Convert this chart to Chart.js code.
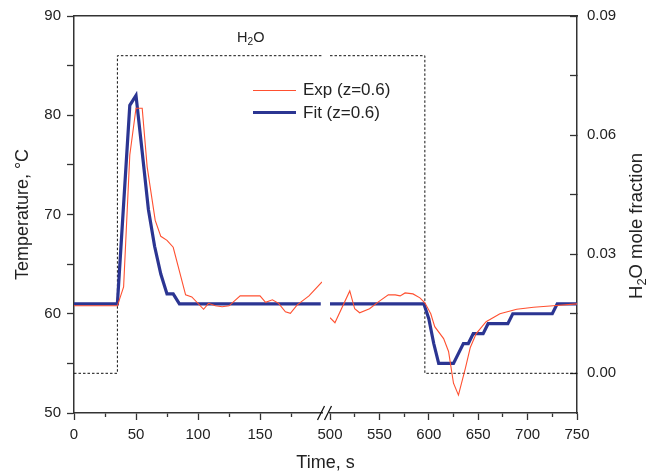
<!DOCTYPE html>
<html>
<head>
<meta charset="utf-8">
<script src="https://cdn.jsdelivr.net/npm/chart.js@4.4.1/dist/chart.umd.min.js"></script>
<style>
body{margin:0;background:#fff;}
canvas{display:block;}
#wrap{position:relative;width:666px;height:474px;font-family:"Liberation Sans",Arial,sans-serif;color:#222;}
#legend{position:absolute;left:253px;top:79px;font-size:17px;}
.legend-row{display:flex;align-items:center;height:22.5px;white-space:nowrap;}
.legend-line{width:43px;margin-right:7px;}
#h2o-label{position:absolute;left:237px;top:29px;font-size:14.5px;}
#y2-title{position:absolute;left:636px;top:226px;font-size:18.5px;white-space:nowrap;transform:translate(-50%,-50%) rotate(-90deg);}
sub{font-size:0.7em;vertical-align:-0.3em;line-height:0;}
</style>
</head>
<body>
<div id="wrap">
  <canvas id="tempChart" width="666" height="474"></canvas>
  <div id="h2o-label">H<sub>2</sub>O</div>
  <div id="y2-title">H<sub>2</sub>O mole fraction</div>
  <div id="legend"></div>
</div>
<script>
const ctx = document.getElementById("tempChart");
const legendBox = document.getElementById("legend");

// measured temperature, before the axis break (time s / °C)
const expTimeA = [0, 35, 40, 45, 50, 55, 59, 65.5, 70, 75, 80, 90, 95, 104.5, 108.5, 114, 119.5, 125, 134, 142, 150, 154.5, 160, 165, 170.5, 174.5, 180, 189.5, 200];
const expTempA = [60.8, 60.8, 62.7, 76.0, 80.7, 80.7, 74.8, 69.4, 67.8, 67.4, 66.7, 61.9, 61.7, 60.45, 61.05, 60.8, 60.7, 60.8, 61.8, 61.8, 61.8, 61.15, 61.4, 61.05, 60.2, 60.05, 60.9, 61.8, 63.2];
// measured temperature, after the axis break
const expTimeB = [500, 505, 520, 525, 530, 540, 549, 559, 566, 571, 576, 584, 591, 596, 602, 606, 615, 620, 625, 630, 637, 642, 648, 658, 672, 689, 706, 726, 750];
const expTempB = [59.6, 59.1, 62.3, 60.5, 60.1, 60.5, 61.2, 61.9, 61.9, 61.8, 62.1, 62.0, 61.6, 61.1, 60.0, 58.7, 57.5, 56.2, 53.0, 51.8, 54.5, 56.6, 58.0, 59.2, 60.0, 60.45, 60.65, 60.8, 61.0];

// fitted temperature
const fitTimeA = [0, 35, 45, 50, 55, 60, 65, 70, 75, 80, 85, 199];
const fitTempA = [61, 61, 81, 82, 76.3, 70.5, 66.8, 64, 62, 62, 61, 61];
const fitTimeB = [500, 595, 600, 605, 610, 625, 635, 640, 645, 655, 660, 680, 685, 725, 730, 750];
const fitTempB = [61, 61, 59.5, 57, 55, 55, 57, 57, 58, 58, 59, 59, 60, 60, 61, 61];

// H2O mole fraction step
const h2oTimeA = [0, 35, 35, 200];
const h2oFracA = [0, 0, 0.08, 0.08];
const h2oTimeB = [500, 596, 596, 750];
const h2oFracB = [0.08, 0.08, 0, 0];

// ticks
const timeTicksA = [0, 25, 50, 75, 100, 125, 150, 175];
const timeLabelsA = [0, 50, 100, 150];
const timeTicksB = [500, 525, 550, 575, 600, 625, 650, 675, 700, 725, 750];
const timeLabelsB = [500, 550, 600, 650, 700, 750];
const tempTicks = [50, 55, 60, 65, 70, 75, 80, 85, 90];
const tempLabels = [50, 60, 70, 80, 90];
const fracTicks = [0, 0.015, 0.03, 0.045, 0.06, 0.075, 0.09];
const fracLabels = [0, 0.03, 0.06, 0.09];

const expColor = "#ff5030";
const fitColor = "#2b3592";
const textColor = "#222";
const axisColor = "#333";
const fontFamily = "'Liberation Sans', Arial, sans-serif";
const tickFont = {family: fontFamily, size: 15};

const toPoints = (xs, ys) => xs.map((x, i) => ({x: x, y: ys[i]}));
const isIn = (list, v) => list.some(l => Math.abs(l - v) < 1e-9);
const setTicks = (list) => (scale) => { scale.ticks = list.map(v => ({value: v})); };
const labelFor = (list, fmt) => (value) => isIn(list, value) ? fmt(value) : "";
// short marks for minor ticks on the time axis
const minorDash = (list) => (c) => (c.tick && !isIn(list, c.tick.value)) ? [3.5, 50] : [];

const xAxisHeight = 37.4;

const timeAxis = (ticks, labels, weight, min, max) => ({
    type: "linear",
    position: "bottom",
    stack: "time",
    stackWeight: weight,
    min: min,
    max: max,
    afterBuildTicks: setTicks(ticks),
    afterFit: (s) => { s.height = xAxisHeight; },
    border: {color: axisColor, width: 1.5},
    grid: {drawOnChartArea: false, color: axisColor, tickLength: 7, tickWidth: 1.3, tickBorderDash: minorDash(labels)},
    ticks: {autoSkip: false, maxRotation: 0, padding: 6, color: textColor, font: tickFont, callback: labelFor(labels, v => v)}
});

//axis break marks
const breakMarks = {
    id: "breakMarks",
    afterDraw: (chart) => {
        const c = chart.ctx;
        const y = chart.chartArea.bottom;
        c.save();
        c.strokeStyle = "#111";
        c.lineWidth = 1.3;
        [chart.scales.x1.right - 1, chart.scales.x2.left - 2].forEach((x) => {
            c.beginPath();
            c.moveTo(x - 3.5, y + 7);
            c.lineTo(x + 3.5, y - 7);
            c.stroke();
        });
        c.restore();
    }
};

const line = (label, xs, ys, xId, yId, color, width, order, extra) => Object.assign({
    label: label,
    data: toPoints(xs, ys),
    xAxisID: xId,
    yAxisID: yId,
    borderColor: color,
    borderWidth: width,
    pointRadius: 0,
    tension: 0,
    fill: false,
    order: order
}, extra || {});

let tempChart = new Chart(ctx, {
    type: "line",
    data: {
        datasets: [
            line("Exp (z=0.6)", expTimeA, expTempA, "x1", "y", expColor, 1.1, 0, {inLegend: true}),
            line("Exp (z=0.6)", expTimeB, expTempB, "x2", "y", expColor, 1.1, 0),
            line("Fit (z=0.6)", fitTimeA, fitTempA, "x1", "y", fitColor, 3.2, 1, {inLegend: true}),
            line("Fit (z=0.6)", fitTimeB, fitTempB, "x2", "y", fitColor, 3.2, 1),
            line("H2O", h2oTimeA, h2oFracA, "x1", "y2", "#111", 1, 2, {borderDash: [2.5, 2]}),
            line("H2O", h2oTimeB, h2oFracB, "x2", "y2", "#111", 1, 2, {borderDash: [2.5, 2]})
        ]
    },
    options: {
        responsive: false,
        animation: false,
        events: [],
        layout: {padding: 0},
        plugins: {
            legend: {display: false},
            tooltip: {enabled: false},
            title: {
                display: true,
                text: "Time, s",
                position: "bottom",
                fullSize: false,
                color: textColor,
                font: {family: fontFamily, size: 18, weight: "normal"},
                padding: {top: 2, bottom: 0}
            }
        },
        scales: {
            x1: timeAxis(timeTicksA, timeLabelsA, 248, 0, 200),
            xgap: {
                type: "linear", position: "bottom", stack: "time", stackWeight: 8, min: 0, max: 1,
                afterFit: (s) => { s.height = xAxisHeight; },
                border: {display: false}, grid: {display: false}, ticks: {display: false}
            },
            x2: timeAxis(timeTicksB, timeLabelsB, 247, 500, 750),
            xt: {
                type: "linear", position: "top",
                afterFit: (s) => { s.height = 16; },
                border: {display: true, color: axisColor, width: 1.5},
                grid: {display: false}, ticks: {display: false}
            },
            y: {
                type: "linear", position: "left", min: 50, max: 90,
                afterBuildTicks: setTicks(tempTicks),
                afterFit: (s) => { s.width = 74; s.paddingTop = 9; s.paddingBottom = 9; },
                border: {color: axisColor, width: 1.5},
                grid: {drawOnChartArea: false, color: axisColor, tickLength: 7, tickWidth: 1.3},
                ticks: {autoSkip: false, padding: 6, color: textColor, font: tickFont, callback: labelFor(tempLabels, v => v)},
                title: {display: true, text: "Temperature, °C", color: textColor, font: {family: fontFamily, size: 18}, padding: {top: 12, bottom: 0}}
            },
            y2: {
                type: "linear", position: "right", min: -0.01, max: 0.09,
                afterBuildTicks: setTicks(fracTicks),
                // inward ticks: the large label padding must not push the plot down
                afterFit: (s) => { s.width = 89; s.paddingTop = 9; s.paddingBottom = 9; },
                border: {color: axisColor, width: 1.5},
                grid: {drawOnChartArea: false, color: axisColor, tickLength: -7, tickWidth: 1.3},
                ticks: {autoSkip: false, padding: 17, color: textColor, font: tickFont, callback: labelFor(fracLabels, v => v.toFixed(2))}
            }
        }
    },
    plugins: [breakMarks]
});

//legend rows built from the datasets
tempChart.data.datasets.filter(d => d.inLegend).forEach((d) => {
    const row = document.createElement("div");
    row.className = "legend-row";
    const sample = document.createElement("span");
    sample.className = "legend-line";
    sample.style.borderTop = `${d.borderWidth}px solid ${d.borderColor}`;
    const text = document.createElement("span");
    text.textContent = d.label;
    row.appendChild(sample);
    row.appendChild(text);
    legendBox.appendChild(row);
});
</script>
</body>
</html>
